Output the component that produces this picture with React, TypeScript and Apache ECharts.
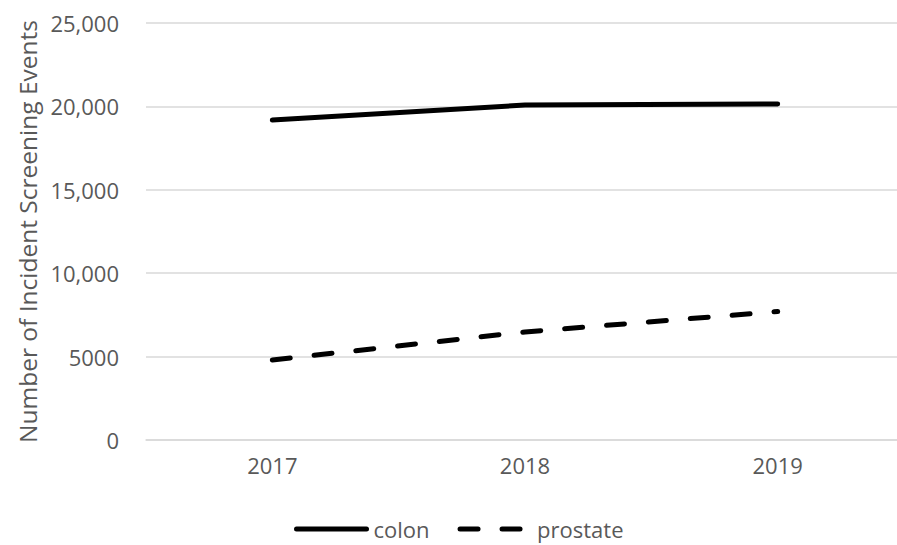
import React, { useEffect, useRef } from "react";
import * as echarts from "echarts";

const categories = ["2017", "2018", "2019"];
const colonValues = [19180, 20080, 20150];
const prostateValues = [4800, 6480, 7700];
const yTickLabels = ["0", "5000", "10,000", "15,000", "20,000", "25,000"];
const yAxisTitle = "Number of Incident Screening Events";
const seriesNames = ["colon", "prostate"];

const FONT = "'Open Sans', 'Noto Sans', sans-serif";
const TEXT = "#595959";

export default function App() {
  const ref = useRef<HTMLDivElement>(null);
  useEffect(() => {
    document.body.style.margin = "0";
    if (!ref.current) return;
    const chart = echarts.init(ref.current, null, { renderer: "svg" });
    chart.setOption({
      animation: false,
      backgroundColor: "#ffffff",
      textStyle: { fontFamily: FONT },
      grid: { left: 146, top: 23, right: 0, bottom: 105 },
      legend: {
        left: 289,
        top: 513,
        itemWidth: 70,
        itemHeight: 6,
        itemGap: 28,
        data: seriesNames,
        textStyle: { color: TEXT, fontSize: 22, fontFamily: FONT, padding: [0, 0, 0, 2] },
        lineStyle: { width: 5 },
        itemStyle: { opacity: 0 },
      },
      xAxis: {
        type: "category",
        data: categories,
        boundaryGap: true,
        axisLine: { show: true, lineStyle: { color: "#d9d9d9", width: 1.5 } },
        axisTick: { show: false },
        axisLabel: { color: TEXT, fontSize: 22, fontFamily: FONT, margin: 14 },
      },
      yAxis: {
        type: "value",
        min: 0,
        max: 25000,
        interval: 5000,
        name: yAxisTitle,
        nameLocation: "middle",
        nameGap: 106,
        nameRotate: 90,
        nameTextStyle: { color: TEXT, fontSize: 24.5, fontFamily: FONT },
        axisLine: { show: false },
        axisTick: { show: false },
        splitLine: { lineStyle: { color: "#d9d9d9", width: 1.5 } },
        axisLabel: {
          color: TEXT,
          fontSize: 22,
          fontFamily: FONT,
          margin: 27,
          formatter: (v: number) => yTickLabels[Math.round(v / 5000)] ?? String(v),
        },
      },
      series: [
        {
          name: seriesNames[0],
          type: "line",
          data: colonValues,
          symbol: "none",
          lineStyle: { color: "#000000", width: 5, cap: "round", join: "round" },
          itemStyle: { color: "#000000" },
        },
        {
          name: seriesNames[1],
          type: "line",
          data: prostateValues,
          symbol: "none",
          lineStyle: { color: "#000000", width: 5, type: [18, 24], cap: "round", join: "round" },
          itemStyle: { color: "#000000" },
        },
      ],
    });
    return () => chart.dispose();
  }, []);
  return (
    <div style={{ width: 897, height: 545, overflow: "hidden", position: "relative" }}>
      <div ref={ref} style={{ width: 904, height: 545 }} />
    </div>
  );
}
